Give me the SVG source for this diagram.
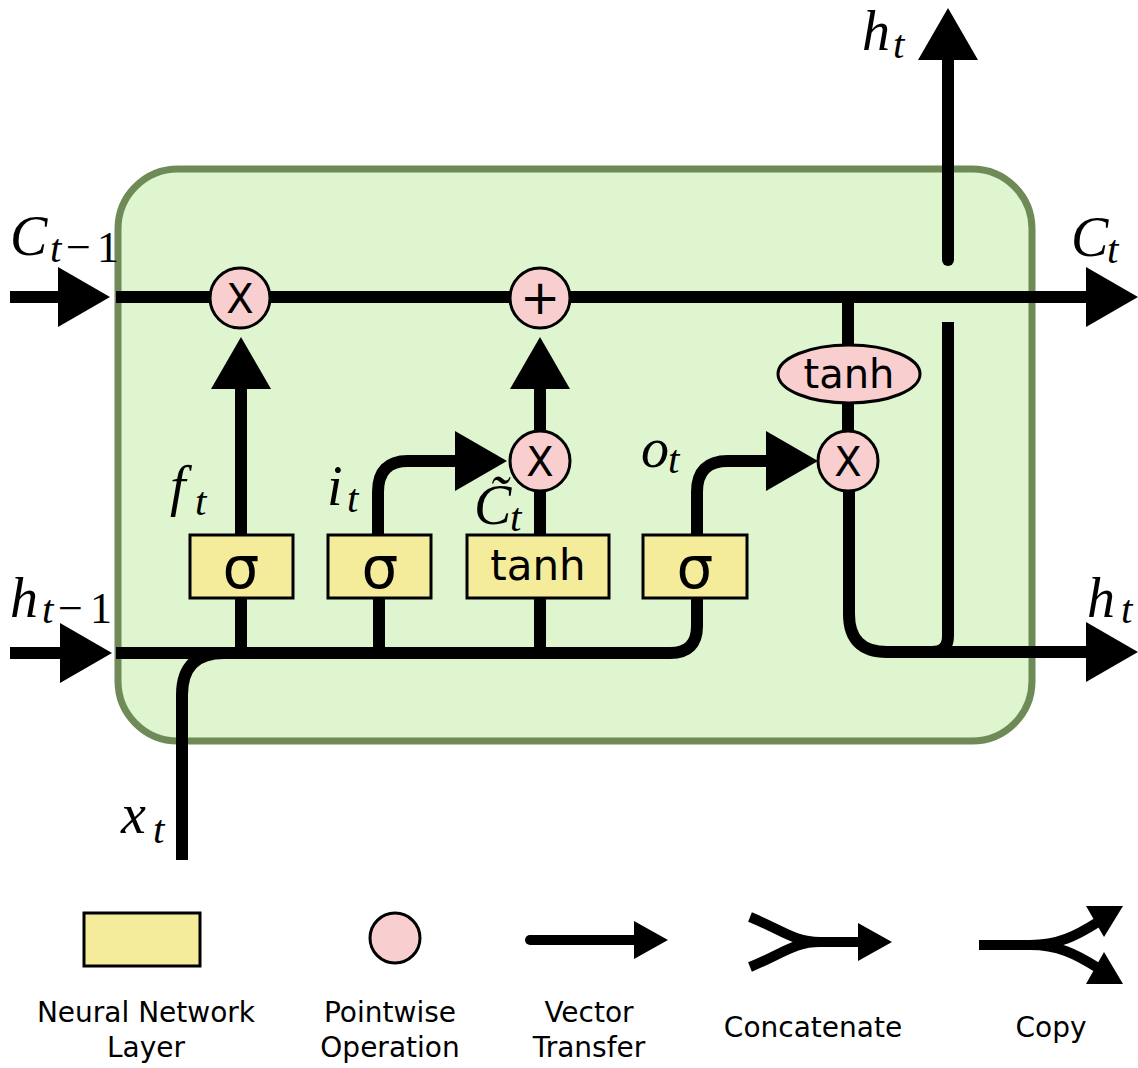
<svg xmlns="http://www.w3.org/2000/svg" xmlns:xlink="http://www.w3.org/1999/xlink" width="1138" height="1068" viewBox="0 0 1138 1068">
<style>
.cell{fill:#dff5cf;stroke:#6e8a57;stroke-width:7}
.wire{fill:none;stroke:#000;stroke-width:12}
.lw{fill:none;stroke:#000;stroke-width:10}
.layer{fill:#f5ec9b;stroke:#000;stroke-width:3}
.op{fill:#f8cece;stroke:#000;stroke-width:3}
.sans{font-family:"DejaVu Sans","Liberation Sans",sans-serif;fill:#000}
.lab{font-size:28px;text-anchor:middle}
.math{font-family:"Liberation Serif","DejaVu Serif",serif;font-style:italic;fill:#000;font-size:56px}
.sub{font-size:41px}
.up{font-style:normal;font-size:44px}
</style>
<defs>
<path id="ah" d="M0,0 L-52,-30 L-52,30 Z" fill="#000"/>
<path id="ahs" d="M0,0 L-34,-19 L-34,19 Z" fill="#000"/>
</defs>
<rect id="cell" class="cell" x="118" y="169" width="914" height="572" rx="60" ry="60"/>
<g id="connectors">
<path class="wire" d="M10,297 H60"/>
<use xlink:href="#ah" href="#ah" transform="translate(110,297)"/>
<path class="wire" d="M116,297 H1092"/>
<use xlink:href="#ah" href="#ah" transform="translate(1138,297)"/>
<path class="wire" d="M10,653 H62"/>
<use xlink:href="#ah" href="#ah" transform="translate(112,653)"/>
<path class="wire" d="M116,653 H670 Q697,653 697,626 V598"/>
<path class="wire" d="M182,860 V695 Q182,653 224,653"/>
<path class="wire" d="M241,598 V653"/>
<path class="wire" d="M241,535 V385"/>
<use xlink:href="#ah" href="#ah" transform="translate(241,337) rotate(-90)"/>
<path class="wire" d="M379,598 V653"/>
<path class="wire" d="M378,535 V492 Q378,461 408,461 H460"/>
<use xlink:href="#ah" href="#ah" transform="translate(507,461)"/>
<path class="wire" d="M540,598 V653"/>
<path class="wire" d="M540,535 V490"/>
<path class="wire" d="M540,430 V385"/>
<use xlink:href="#ah" href="#ah" transform="translate(540,337) rotate(-90)"/>
<path class="wire" d="M697,535 V492 Q697,461 728,461 H772"/>
<use xlink:href="#ah" href="#ah" transform="translate(818,461)"/>
<path class="wire" d="M848,297 V345"/>
<path class="wire" d="M848,403 V430"/>
<path class="wire" d="M849,490 V614 Q849,652 887,652 H1092"/>
<use xlink:href="#ah" href="#ah" transform="translate(1138,652)"/>
<path class="wire" d="M948,322 V636 Q948,652 932,652"/>
<path class="wire" d="M948,260 V56" stroke-linecap="round"/>
<path class="wire" d="M948,260 V100"/>
<use xlink:href="#ah" href="#ah" transform="translate(948,8) rotate(-90)"/>
</g>
<g id="op-forget">
<circle class="op" cx="240" cy="298" r="30"/>
<text class="sans" x="240" y="313" font-size="40" text-anchor="middle">X</text>
</g>
<g id="op-add">
<circle class="op" cx="540" cy="298" r="30"/>
<text class="sans" x="540" y="314" font-size="48" text-anchor="middle">+</text>
</g>
<g id="op-input">
<circle class="op" cx="540" cy="461" r="30"/>
<text class="sans" x="540" y="476" font-size="40" text-anchor="middle">X</text>
</g>
<g id="op-output">
<circle class="op" cx="848" cy="461" r="30"/>
<text class="sans" x="848" y="476" font-size="40" text-anchor="middle">X</text>
</g>
<g id="op-tanh">
<ellipse class="op" cx="849" cy="374" rx="71" ry="29"/>
<text class="sans" x="849" y="388" font-size="40" text-anchor="middle">tanh</text>
</g>
<g id="layer-forget">
<rect class="layer" x="190" y="535" width="103" height="63"/>
<text class="sans" x="241" y="588" font-size="58" text-anchor="middle">σ</text>
</g>
<g id="layer-input">
<rect class="layer" x="328" y="535" width="103" height="63"/>
<text class="sans" x="380" y="588" font-size="58" text-anchor="middle">σ</text>
</g>
<g id="layer-tanh">
<rect class="layer" x="467" y="535" width="142" height="63"/>
<text class="sans" x="538" y="580" font-size="42" text-anchor="middle">tanh</text>
</g>
<g id="layer-output">
<rect class="layer" x="643" y="535" width="104" height="63"/>
<text class="sans" x="695" y="588" font-size="58" text-anchor="middle">σ</text>
</g>
<g id="labels">
<text class="math" x="10" y="255">C</text>
<text class="math sub" x="50" y="262">t</text>
<text class="math up" x="66" y="262">−</text>
<text class="math up" x="97" y="262">1</text>
<text class="math" x="10" y="617">h</text>
<text class="math sub" x="42" y="623">t</text>
<text class="math up" x="58" y="623">−</text>
<text class="math up" x="90" y="623">1</text>
<text class="math" x="1071" y="256">C</text>
<text class="math sub" x="1107" y="263">t</text>
<text class="math" x="862" y="50">h</text>
<text class="math sub" x="893" y="58">t</text>
<text class="math" x="1087" y="617">h</text>
<text class="math sub" x="1121" y="623">t</text>
<text class="math" x="170" y="505">f</text>
<text class="math sub" x="195" y="515">t</text>
<text class="math" x="327" y="505">i</text>
<text class="math sub" x="347" y="512">t</text>
<text class="math" x="474" y="524" font-size="44">C̃</text>
<text class="math sub" x="510" y="531">t</text>
<text class="math" x="641" y="467">o</text>
<text class="math sub" x="668" y="473">t</text>
<text class="math" x="121" y="833">x</text>
<text class="math sub" x="153" y="843">t</text>
</g>
<g id="legend-layer">
<rect class="layer" x="84" y="913" width="116" height="53"/>
<text class="sans lab" x="146" y="1022">Neural Network</text>
<text class="sans lab" x="146" y="1057">Layer</text>
</g>
<g id="legend-op">
<circle class="op" cx="395" cy="938" r="25"/>
<text class="sans lab" x="390" y="1022">Pointwise</text>
<text class="sans lab" x="390" y="1057">Operation</text>
</g>
<g id="legend-vector">
<path class="lw" d="M530,940 H640" stroke-linecap="round"/>
<use xlink:href="#ahs" href="#ahs" transform="translate(668,940)"/>
<text class="sans lab" x="589" y="1022">Vector</text>
<text class="sans lab" x="589" y="1057">Transfer</text>
</g>
<g id="legend-concat">
<path class="lw" d="M750,917 C782,930 794,942 820,942 H865 M750,967 C782,954 794,942 820,942"/>
<use xlink:href="#ahs" href="#ahs" transform="translate(892,942)"/>
<text class="sans lab" x="813" y="1037">Concatenate</text>
</g>
<g id="legend-copy">
<path class="lw" d="M979,945 H1030 C1058,945 1076,936 1098,922 M1030,945 C1058,945 1076,954 1098,968"/>
<path d="M1086,906 L1123,906 L1104,937 Z" fill="#000"/>
<path d="M1086,984 L1123,984 L1104,952 Z" fill="#000"/>
<text class="sans lab" x="1051" y="1037">Copy</text>
</g>
</svg>
